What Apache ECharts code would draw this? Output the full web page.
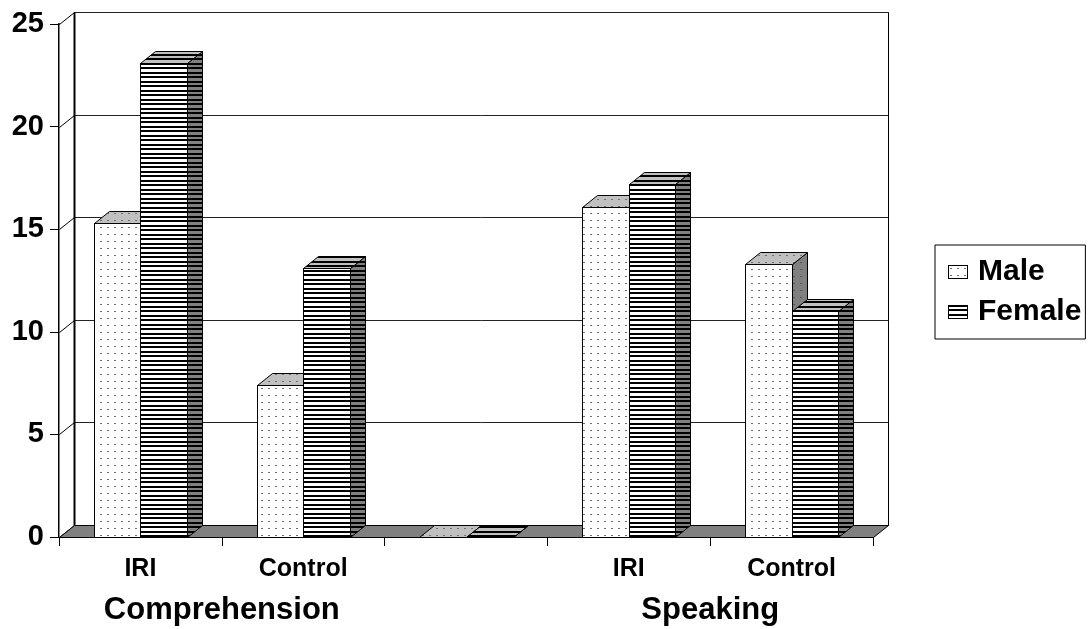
<!DOCTYPE html>
<html>
<head>
<meta charset="utf-8">
<script src="https://cdn.jsdelivr.net/npm/echarts@6/dist/echarts.min.js"></script>
<style>
  html, body { margin: 0; padding: 0; background: #fff; }
  #chart { width: 1088px; height: 629px; }
</style>
</head>
<body>
<div id="chart"></div>
<script>
// Categories along the floor; the middle slot is an empty spacer.
const categories = ['IRI', 'Control', '', 'IRI', 'Control'];
// Group titles sit on category boundaries (second axis, boundaryGap off).
const groupLabels = ['', 'Comprehension', '', '', 'Speaking', ''];
const maleValues = [15.3, 7.4, 0, 16.1, 13.3];
const femaleValues = [23.1, 13.1, 0, 17.2, 11.0];
const yTicks = [0, 5, 10, 15, 20, 25];

// Depth of the pseudo-3D box (back plane offset from the front plane).
const DX = 15, DY = -12;
const FONT = "'Liberation Sans', Arial, sans-serif";

function tile(w, h, bg, paint) {
  const c = document.createElement('canvas');
  c.width = w; c.height = h;
  const g = c.getContext('2d');
  g.fillStyle = bg;
  g.fillRect(0, 0, w, h);
  paint(g);
  return c;
}
function dots(bg, ink) {
  return tile(7, 7, bg, g => { g.fillStyle = ink; g.fillRect(2, 3, 2, 1); });
}
function stripes(bg, ink) {
  return tile(4, 9, bg, g => { g.fillStyle = ink; g.fillRect(0, 0, 4, 2); g.fillRect(0, 4, 4, 2); });
}
function pat(canvas) { return { image: canvas, repeat: 'repeat' }; }

const maleFaces = {
  front: dots('#ffffff', '#6e6e6e'),
  top: dots('#c0c0c0', '#707070'),
  side: dots('#808080', '#555555')
};
const femaleFaces = {
  front: stripes('#ffffff', '#000000'),
  top: stripes('#c0c0c0', '#000000'),
  side: stripes('#808080', '#000000')
};

function legendIcon(faceCanvas) {
  const c = document.createElement('canvas');
  c.width = 20; c.height = 14;
  const g = c.getContext('2d');
  g.fillStyle = g.createPattern(faceCanvas, 'repeat');
  g.fillRect(0, 0, 20, 14);
  g.strokeStyle = '#000';
  g.lineWidth = 1;
  g.strokeRect(0.5, 0.5, 19, 13);
  return 'image://' + c.toDataURL();
}

const px = v => Math.round(v) + 0.5;

function barRenderer(side, faces) {
  return function (params, api) {
    const i = api.value(0), v = api.value(1);
    const top = api.coord([i, v]);
    const base = api.coord([i, 0]);
    const band = api.size([1, 0])[0];
    const w = band * 0.286;
    const x0 = px(side < 0 ? top[0] - w : top[0]);
    const x1 = px(side < 0 ? top[0] : top[0] + w);
    const yt = px(top[1]), yb = px(base[1]);
    const edge = { stroke: '#000', lineWidth: 1 };
    return {
      type: 'group',
      children: [
        { type: 'rect', shape: { x: x0, y: yt, width: x1 - x0, height: yb - yt },
          style: Object.assign({ fill: pat(faces.front) }, edge) },
        { type: 'polygon', shape: { points: [[x1, yt], [x1 + DX, yt + DY], [x1 + DX, yb + DY], [x1, yb]] },
          style: Object.assign({ fill: pat(faces.side) }, edge) },
        { type: 'polygon', shape: { points: [[x0, yt], [x1, yt], [x1 + DX, yt + DY], [x0 + DX, yt + DY]] },
          style: Object.assign({ fill: pat(faces.top) }, edge) }
      ]
    };
  };
}

function frameRenderer(params, api) {
  const cs = params.coordSys;
  const L = px(cs.x), T = px(cs.y), R = px(cs.x + cs.width), B = px(cs.y + cs.height);
  const kids = [];
  // back wall and left side wall
  kids.push({ type: 'rect', shape: { x: L + DX, y: T + DY, width: R - L, height: B - T },
    style: { fill: '#fff', stroke: '#000', lineWidth: 1 } });
  kids.push({ type: 'polygon', shape: { points: [[L, T], [L + DX, T + DY], [L + DX, B + DY], [L, B]] },
    style: { fill: '#fff', stroke: null } });
  yTicks.forEach(t => {
    const y = px(api.coord([0, t])[1]);
    kids.push({ type: 'line', shape: { x1: L + DX, y1: y + DY, x2: R + DX, y2: y + DY },
      style: { stroke: '#222', lineWidth: 1 } });
    kids.push({ type: 'line', shape: { x1: L, y1: y, x2: L + DX, y2: y + DY },
      style: { stroke: '#000', lineWidth: 1 } });
  });
  kids.push({ type: 'line', shape: { x1: L + DX, y1: T + DY, x2: L + DX, y2: B + DY },
    style: { stroke: '#000', lineWidth: 2 } });
  // floor
  kids.push({ type: 'polygon', shape: { points: [[L, B], [R, B], [R + DX, B + DY], [L + DX, B + DY]] },
    style: { fill: '#808080', stroke: '#000', lineWidth: 1 } });
  return { type: 'group', children: kids };
}

const chart = echarts.init(document.getElementById('chart'), null, { renderer: 'canvas' });

chart.setOption({
  animation: false,
  backgroundColor: '#ffffff',
  grid: { left: 59, top: 24, right: 215, bottom: 92, containLabel: false },
  legend: {
    orient: 'vertical',
    left: 935,
    top: 245,
    padding: [12, 4, 12, 13],
    itemGap: 10,
    itemWidth: 20,
    itemHeight: 14,
    borderColor: '#000',
    borderWidth: 1,
    borderRadius: 0,
    selectedMode: false,
    textStyle: { fontFamily: FONT, fontSize: 30, fontWeight: 'bold', color: '#000', padding: [0, 0, 0, 5] },
    data: [
      { name: 'Male', icon: legendIcon(maleFaces.front) },
      { name: 'Female', icon: legendIcon(femaleFaces.front) }
    ]
  },
  xAxis: [
    {
      type: 'category',
      data: categories,
      axisLine: { show: true, lineStyle: { color: '#000', width: 1 } },
      axisTick: { show: true, interval: 0, length: 9, lineStyle: { color: '#000' } },
      axisLabel: { interval: 0, margin: 20, fontFamily: FONT, fontSize: 25, fontWeight: 'bold', color: '#000' },
      splitLine: { show: false }
    },
    {
      type: 'category',
      data: groupLabels,
      position: 'bottom',
      offset: 0,
      boundaryGap: false,
      axisLine: { show: false },
      axisTick: { show: false },
      axisLabel: { interval: 0, margin: 58, fontFamily: FONT, fontSize: 31, fontWeight: 'bold', color: '#000' },
      splitLine: { show: false }
    }
  ],
  yAxis: {
    type: 'value',
    min: 0,
    max: 25,
    interval: 5,
    axisLine: { show: true, lineStyle: { color: '#000', width: 2 } },
    axisTick: { show: true, length: 9, lineStyle: { color: '#000' } },
    axisLabel: { margin: 15, fontFamily: FONT, fontSize: 29, fontWeight: 'bold', color: '#000' },
    splitLine: { show: false }
  },
  series: [
    {
      name: 'frame',
      type: 'custom',
      silent: true,
      renderItem: frameRenderer,
      data: [[0, 0]],
      z: 1
    },
    {
      name: 'Male',
      type: 'custom',
      renderItem: barRenderer(-1, maleFaces),
      encode: { x: 0, y: 1 },
      data: maleValues.map((v, i) => [i, v]),
      z: 2
    },
    {
      name: 'Female',
      type: 'custom',
      renderItem: barRenderer(1, femaleFaces),
      encode: { x: 0, y: 1 },
      data: femaleValues.map((v, i) => [i, v]),
      z: 3
    }
  ]
});
</script>
</body>
</html>
